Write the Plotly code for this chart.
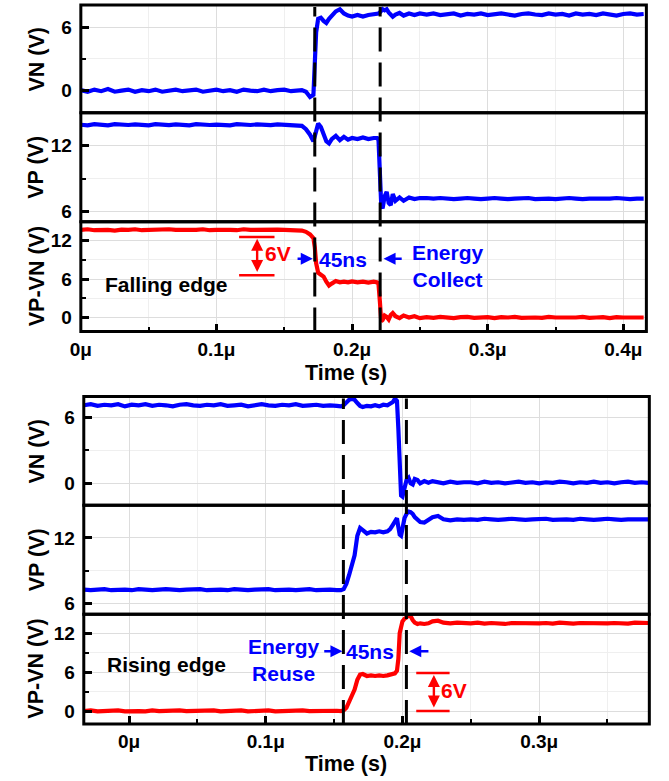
import plotly.graph_objects as go

# ---------------- data (time in ns, voltages in V) ----------------
t_fall_ns = [0, 5, 10, 15, 20, 25, 30, 35, 40, 45, 50, 55, 60, 65, 70, 75, 80, 85, 90, 95,
             100, 105, 110, 115, 120, 125, 130, 135, 140, 145, 150, 155, 160,
             163, 166, 169, 171.5, 172.5, 173.5, 175, 177, 179, 181, 183, 185, 188, 191, 194, 197,
             200, 204, 208, 212, 216, 218.5, 219.5, 220.5, 221.5, 222.5, 224, 225.5, 227, 228.5,
             230, 232, 235, 238, 242, 246, 250,
             255, 260, 265, 270, 275, 280, 285, 290, 295, 300, 305, 310, 315, 320, 325, 330,
             335, 340, 345, 350, 355, 360, 365, 370, 375, 380, 385, 390, 395, 400, 405, 410, 415]

vn_fall = [0.05, -0.10, 0.10, -0.05, 0.15, -0.10, 0.00, 0.10, -0.10, 0.05, -0.05, 0.10, -0.10,
           0.05, 0.10, -0.05, 0.00, 0.10, -0.10, 0.05, 0.10, -0.05, 0.05, -0.10, 0.10, 0.00,
           -0.05, 0.10, -0.05, 0.05, 0.10, -0.05, 0.00,
           0.05, -0.10, -0.60, -0.40, 2.5, 5.5, 6.8, 6.9, 6.6, 6.4, 6.8, 7.1, 7.5, 7.7, 7.3, 7.1,
           7.0, 7.15, 7.0, 7.15, 7.2, 7.2, 7.3, 7.4, 7.6, 7.7, 7.6, 7.7, 7.4, 7.2,
           7.0, 7.2, 7.35, 7.1, 7.3, 7.15, 7.3,
           7.2, 7.3, 7.15, 7.25, 7.3, 7.1, 7.25, 7.2, 7.3, 7.15, 7.2, 7.3, 7.2, 7.1, 7.25, 7.3,
           7.2, 7.15, 7.3, 7.2, 7.25, 7.1, 7.3, 7.2, 7.25, 7.15, 7.3, 7.2, 7.1, 7.25, 7.3, 7.2, 7.25]

vp_fall = [13.90, 13.85, 13.95, 13.90, 13.85, 13.95, 13.90, 13.88, 13.93, 13.90, 13.85, 13.95,
           13.90, 13.87, 13.93, 13.90, 13.85, 13.95, 13.90, 13.88, 13.92, 13.90, 13.85, 13.95,
           13.90, 13.88, 13.93, 13.90, 13.86, 13.94, 13.90, 13.88, 13.85,
           13.8, 13.5, 13.0, 12.4, 12.8, 13.5, 14.0, 13.7, 13.0, 12.4, 12.2, 12.6, 12.9, 12.5,
           12.8, 12.55, 12.7, 12.6, 12.75, 12.6, 12.7, 12.7, 12.5, 9.5, 6.6, 6.3, 7.4, 7.8,
           6.8, 6.6, 7.6, 7.0, 7.3, 7.0, 7.3, 7.15, 7.25,
           7.25, 7.20, 7.25, 7.20, 7.15, 7.20, 7.25, 7.20, 7.15, 7.20, 7.25, 7.20, 7.15, 7.20,
           7.20, 7.25, 7.15, 7.20, 7.20, 7.15, 7.20, 7.25, 7.20, 7.15, 7.20, 7.20, 7.15, 7.20,
           7.25, 7.20, 7.15, 7.20, 7.20]

vpvn_fall = [13.70, 13.80, 13.65, 13.75, 13.70, 13.60, 13.75, 13.70, 13.80, 13.65, 13.70, 13.75,
             13.65, 13.80, 13.70, 13.65, 13.75, 13.70, 13.80, 13.65, 13.70, 13.75, 13.70, 13.65,
             13.80, 13.70, 13.75, 13.65, 13.70, 13.75, 13.70, 13.65, 13.70,
             13.6, 13.4, 13.0, 12.4, 11.0, 8.5, 7.0, 6.7, 6.4, 5.6, 5.0, 5.3, 5.7, 5.5, 5.6, 5.5,
             5.65, 5.5, 5.6, 5.45, 5.6, 5.5, 5.2, 2.5, -0.6, -0.4, 0.3, 0.1, -0.3, 0.4,
             0.7, 0.2, -0.1, 0.3, 0.0, 0.2, -0.1,
             0.05, -0.05, 0.10, 0.00, -0.10, 0.05, 0.10, -0.05, 0.00, 0.05, -0.10, 0.05, 0.00,
             0.10, -0.05, 0.05, 0.00, -0.05, 0.10, 0.00, -0.05, 0.05, 0.00, 0.10, -0.05, 0.00,
             0.05, -0.10, 0.05, 0.00, 0.05, -0.05, 0.00]

t_rise_ns = [-33, -28, -23, -18, -13, -8, -3, 2, 7, 12, 17, 22, 27, 32, 37, 42, 47, 52, 57, 62,
             67, 72, 77, 82, 87, 92, 97, 102, 107, 112, 117, 122, 127, 132, 137, 142, 147, 152,
             155, 157, 159, 161, 163, 165, 167, 169, 171, 174, 177, 180, 183, 186, 189, 191, 193,
             194.5, 196, 197, 198, 199, 200, 201.5, 203, 204.5, 206, 207.5, 209, 211, 213, 216,
             219, 222, 226, 230, 235, 240, 245,
             250, 255, 260, 265, 270, 275, 280, 285, 290, 295, 300, 305, 310, 315, 320, 325,
             330, 335, 340, 345, 350, 355, 360, 365, 370, 375, 380]

vn_rise = [7.10, 7.20, 7.05, 7.15, 7.10, 7.20, 7.00, 7.15, 7.10, 7.20, 7.05, 7.15, 7.10, 7.00,
           7.15, 7.20, 7.10, 7.05, 7.15, 7.10, 7.20, 7.05, 7.10, 7.15, 7.00, 7.10, 7.20, 7.10,
           7.05, 7.15, 7.10, 7.20, 7.05, 7.10, 7.15, 7.05, 7.10, 7.05,
           7.0, 7.1, 7.4, 7.6, 7.7, 7.6, 7.3, 7.05, 6.95, 7.05, 7.0, 7.1, 7.0, 7.15, 7.1, 7.2, 7.4,
           7.7, 7.5, 5.0, 1.5, -1.1, -1.2, -0.4, 0.3, 0.5, 0.0, -0.1, 0.4, 0.3, 0.0, 0.2,
           0.05, 0.2, 0.1, 0.0, 0.15, 0.05, 0.1,
           0.10, 0.00, 0.15, 0.05, 0.10, 0.00, 0.10, 0.15, 0.05, 0.10, 0.00, 0.10, 0.05, 0.15,
           0.10, 0.00, 0.10, 0.05, 0.15, 0.05, 0.10, 0.00, 0.10, 0.15, 0.05, 0.10, 0.05]

vp_rise = [7.25, 7.20, 7.25, 7.30, 7.20, 7.25, 7.25, 7.20, 7.30, 7.25, 7.20, 7.25, 7.30, 7.25,
           7.20, 7.25, 7.25, 7.30, 7.20, 7.25, 7.25, 7.20, 7.30, 7.25, 7.20, 7.25, 7.25, 7.30,
           7.20, 7.25, 7.25, 7.20, 7.25, 7.30, 7.20, 7.25, 7.25, 7.20,
           7.2, 7.3, 7.8, 8.6, 9.4, 10.4, 12.2, 12.9, 12.7, 12.4, 12.55, 12.5, 12.6, 12.5, 12.6,
           12.8, 13.2, 13.5, 13.8, 13.0, 12.3, 12.2, 12.8, 13.8, 14.2, 14.4, 14.35, 14.2, 13.9,
           13.6, 13.45, 13.4, 13.6, 13.9, 14.0, 13.7, 13.6, 13.7, 13.65,
           13.70, 13.65, 13.75, 13.70, 13.65, 13.70, 13.75, 13.70, 13.65, 13.70, 13.70, 13.75,
           13.65, 13.70, 13.70, 13.65, 13.75, 13.70, 13.65, 13.70, 13.75, 13.70, 13.65, 13.70,
           13.70, 13.75, 13.70]

vpvn_rise = [0.00, 0.10, -0.05, 0.05, 0.00, 0.10, -0.05, 0.05, 0.00, -0.05, 0.10, 0.00, 0.05,
             -0.05, 0.10, 0.00, 0.05, -0.05, 0.00, 0.10, -0.05, 0.05, 0.00, 0.10, -0.05, 0.00,
             0.05, 0.10, -0.05, 0.00, 0.05, -0.05, 0.10, 0.00, 0.05, -0.05, 0.00, 0.05,
             0.0, 0.1, 0.5, 1.4, 2.3, 3.3, 4.8, 5.6, 5.7, 5.4, 5.5, 5.4, 5.5, 5.4, 5.5, 5.6, 5.7,
             5.8, 6.2, 8.0, 12.0, 13.4, 13.8, 14.2, 14.4, 14.8, 14.6, 14.0, 13.6, 13.4, 13.5, 13.4,
             13.5, 13.8, 13.9, 13.6, 13.5, 13.6, 13.5,
             13.50, 13.60, 13.45, 13.55, 13.50, 13.40, 13.55, 13.50, 13.60, 13.45, 13.50, 13.55,
             13.45, 13.60, 13.50, 13.45, 13.55, 13.50, 13.60, 13.45, 13.50, 13.55, 13.50, 13.45,
             13.60, 13.50, 13.55]

for arr in (vn_fall, vp_fall, vpvn_fall):
    assert len(arr) == len(t_fall_ns), (len(arr), len(t_fall_ns))
for arr in (vn_rise, vp_rise, vpvn_rise):
    assert len(arr) == len(t_rise_ns), (len(arr), len(t_rise_ns))

x_tick_vals_fall = [0, 1e-7, 2e-7, 3e-7, 4e-7]
x_tick_text_fall = ["0\u03bc", "0.1\u03bc", "0.2\u03bc", "0.3\u03bc", "0.4\u03bc"]
x_tick_vals_rise = [0, 1e-7, 2e-7, 3e-7]
x_tick_text_rise = ["0\u03bc", "0.1\u03bc", "0.2\u03bc", "0.3\u03bc"]
y_titles = ["VN (V)", "VP (V)", "VP-VN (V)", "VN (V)", "VP (V)", "VP-VN (V)"]
x_title = "Time (s)"
dash_fall_s = [0.1725e-6, 0.2207e-6]
dash_rise_s = [0.1568e-6, 0.2029e-6]

# ---------------- layout geometry ----------------
W, H = 669, 781
FONT = "Liberation Sans, Arial, sans-serif"
BLUE, RED = "#0000ff", "#ff0000"
TICK_SIZE = 19

def py(v):
    return 1 - v / H

panels = [(5, 113), (113, 222), (222, 332), (397, 506), (506, 615), (615, 725)]
xpix = [(71, 646)] * 3 + [(74, 649)] * 3
xranges = [[0, 4.17e-7]] * 3 + [[-0.331e-7, 3.806e-7]] * 3
yranges = [[-2.1, 8.1], [5.1, 14.98], [-2.2, 14.98], [-2.0, 7.9], [5.0, 14.98], [-2.0, 14.9]]

t_fall_s = [t * 1e-9 for t in t_fall_ns]
t_rise_s = [t * 1e-9 for t in t_rise_ns]
series = [(t_fall_s, vn_fall, BLUE), (t_fall_s, vp_fall, BLUE), (t_fall_s, vpvn_fall, RED),
          (t_rise_s, vn_rise, BLUE), (t_rise_s, vp_rise, BLUE), (t_rise_s, vpvn_rise, RED)]

fig = go.Figure()
layout = dict(width=W, height=H, margin=dict(l=0, r=0, t=0, b=0),
              paper_bgcolor="white", plot_bgcolor="white", showlegend=False,
              font=dict(family=FONT, size=17, color="black"))

ann = []
shapes = []
for i in range(6):
    n = i + 1
    sx = "" if n == 1 else str(n)
    t, v, c = series[i]
    fig.add_trace(go.Scatter(x=t, y=v, mode="lines", line=dict(color=c, width=4.2),
                             xaxis="x" + sx, yaxis="y" + sx))
    bottom = i in (2, 5)
    topp = i in (0, 3)
    xa = dict(domain=[xpix[i][0] / W, xpix[i][1] / W], range=xranges[i], anchor="y" + sx,
              showline=False, showgrid=True, gridcolor="#dddddd", gridwidth=1, zeroline=False,
              tickmode="array",
              tickvals=x_tick_vals_fall if i < 3 else x_tick_vals_rise,
              ticktext=x_tick_text_fall if i < 3 else x_tick_text_rise,
              showticklabels=bottom, ticks="inside" if bottom else "",
              ticklen=8, tickwidth=2.5, tickcolor="black", ticklabelstandoff=4,
              tickfont=dict(family=FONT, size=TICK_SIZE, weight="bold"),
              minor=dict(tickmode="linear", tick0=0, dtick=5e-8, showgrid=True,
                         gridcolor="#efefef", ticks="inside" if bottom else "",
                         ticklen=5, tickwidth=2, tickcolor="black"))
    if not topp:
        xa["matches"] = "x" if i < 3 else "x4"
    ya = dict(domain=[py(panels[i][1]), py(panels[i][0])], range=yranges[i], anchor="x" + sx,
              showline=False, showgrid=True, gridcolor="#dddddd", gridwidth=1, zeroline=False,
              tickmode="linear", tick0=0, dtick=6, ticks="inside", ticklen=8,
              tickwidth=2.5, tickcolor="black", ticklabelstandoff=8,
              tickfont=dict(family=FONT, size=TICK_SIZE, weight="bold"),
              minor=dict(tickmode="linear", tick0=0, dtick=3, showgrid=True, gridcolor="#efefef",
                         ticks="inside", ticklen=5, tickwidth=2, tickcolor="black"))
    layout["xaxis" + sx] = xa
    layout["yaxis" + sx] = ya
    # panel frame
    shapes.append(dict(type="rect", xref="paper", yref="paper",
                       x0=xpix[i][0] / W, x1=xpix[i][1] / W,
                       y0=py(panels[i][1]), y1=py(panels[i][0]),
                       line=dict(color="black", width=3), layer="above"))
    # y-axis title as rotated text in the left gutter
    ymid = (panels[i][0] + panels[i][1]) / 2
    ann.append(dict(x=26 / W, y=py(ymid), xref="paper", yref="paper", text="<b>" + y_titles[i] + "</b>",
                    textangle=-90, showarrow=False, xanchor="center", yanchor="middle",
                    font=dict(family=FONT, size=21.5, color="black")))

for ypix in (373, 765):
    ann.append(dict(x=341 / W, y=py(ypix), xref="paper", yref="paper", text="<b>" + x_title + "</b>",
                    showarrow=False, xanchor="center", yanchor="middle",
                    font=dict(family=FONT, size=21.5, color="black")))

for xv in dash_fall_s:
    shapes.append(dict(type="line", xref="x3", yref="paper", x0=xv, x1=xv,
                       y0=py(332), y1=py(7), line=dict(color="black", width=3, dash="24px,11px")))
for xv in dash_rise_s:
    shapes.append(dict(type="line", xref="x6", yref="paper", x0=xv, x1=xv,
                       y0=py(725), y1=py(399), line=dict(color="black", width=3, dash="24px,11px")))
# 6V marker lines
for yv in (12.6, 6.6):
    shapes.append(dict(type="line", xref="x3", yref="y3", x0=0.1167e-6, x1=0.1428e-6, y0=yv, y1=yv,
                       line=dict(color=RED, width=2.5)))
for yv in (5.85, 0.0):
    shapes.append(dict(type="line", xref="x6", yref="y6", x0=0.2101e-6, x1=0.2345e-6, y0=yv, y1=yv,
                       line=dict(color=RED, width=2.5)))
layout["shapes"] = shapes

def txt(x, y, s, color, xr, yr):
    return dict(x=x, y=y, xref=xr, yref=yr, text="<b>" + s + "</b>", showarrow=False,
                font=dict(family=FONT, size=21, color=color), xanchor="center", yanchor="middle")

def arrow(x, y, ax, ay, color, xr, yr, both=False):
    return dict(x=x, y=y, ax=ax, ay=ay, xref=xr, yref=yr, axref=xr, ayref=yr, text="",
                showarrow=True, arrowhead=2, arrowsize=1, arrowwidth=2.4, arrowcolor=color,
                arrowside="end+start" if both else "end")

ann += [
    txt(0.0630e-6, 5.2, "Falling edge", "black", "x3", "y3"),
    txt(0.1457e-6, 9.95, "6V", RED, "x3", "y3"),
    arrow(0.130e-6, 12.3, 0.130e-6, 6.9, RED, "x3", "y3", both=True),
    arrow(0.171e-6, 9.2, 0.1587e-6, 9.2, BLUE, "x3", "y3"),
    txt(0.1935e-6, 9.1, "45ns", BLUE, "x3", "y3"),
    arrow(0.2232e-6, 9.2, 0.2377e-6, 9.2, BLUE, "x3", "y3"),
    txt(0.271e-6, 8.0, "Energy<br>Collect", BLUE, "x3", "y3"),
    txt(0.0273e-6, 7.2, "Rising edge", "black", "x6", "y6"),
    txt(0.1137e-6, 7.9, "Energy<br>Reuse", BLUE, "x6", "y6"),
    arrow(0.1561e-6, 9.2, 0.1417e-6, 9.2, BLUE, "x6", "y6"),
    txt(0.1763e-6, 9.1, "45ns", BLUE, "x6", "y6"),
    arrow(0.2050e-6, 9.2, 0.2201e-6, 9.2, BLUE, "x6", "y6"),
    txt(0.2374e-6, 3.1, "6V", RED, "x6", "y6"),
    arrow(0.2230e-6, 5.55, 0.2230e-6, 0.3, RED, "x6", "y6", both=True),
]
layout["annotations"] = ann

fig.update_layout(**layout)
fig.write_html("out.html")
